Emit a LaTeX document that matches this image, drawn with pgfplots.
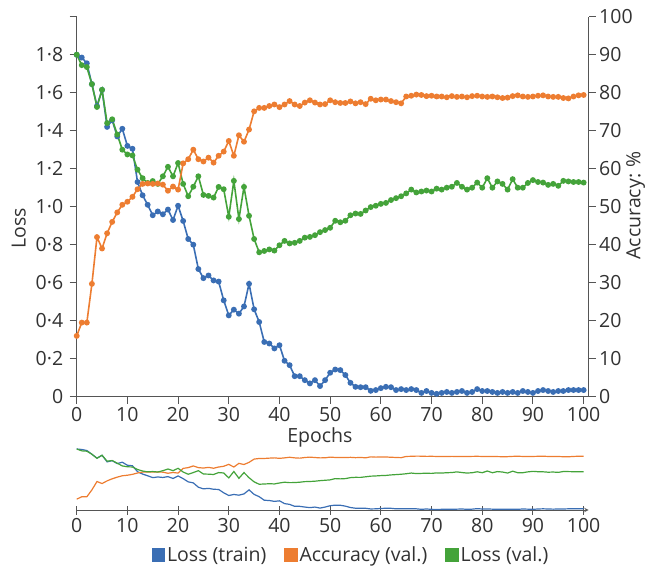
\documentclass[border=0pt]{standalone}
\usepackage{pgfplots}
\pgfplotsset{compat=1.18}
\usepackage{pgfplotstable}
\usepackage{fontspec}
\setmainfont{Open Sans}
\definecolor{ctrain}{RGB}{58,110,180}
\definecolor{cacc}{RGB}{237,125,49}
\definecolor{cval}{RGB}{68,163,58}
\definecolor{txt}{RGB}{50,50,50}
\definecolor{axl}{RGB}{85,85,85}

% epoch, training loss, validation accuracy (%), validation loss
\pgfplotstableread{
ep train acc val
0 1.800 16.0 1.800
1 1.785 19.5 1.745
2 1.755 19.5 1.735
3 1.645 29.7 1.645
4 1.530 42.0 1.525
5 1.615 39.0 1.615
6 1.420 43.0 1.440
7 1.455 46.0 1.460
8 1.370 48.5 1.380
9 1.410 50.5 1.300
10 1.320 51.3 1.275
11 1.305 52.6 1.270
12 1.130 54.6 1.195
13 1.060 56.0 1.150
14 1.010 56.1 1.125
15 0.955 56.0 1.135
16 0.975 56.1 1.120
17 0.960 55.8 1.160
18 0.985 54.2 1.210
19 0.930 55.3 1.160
20 1.005 54.5 1.230
21 0.925 61.4 1.120
22 0.830 62.5 1.055
23 0.800 65.0 1.105
24 0.672 62.5 1.160
25 0.624 61.9 1.062
26 0.638 62.9 1.057
27 0.612 61.6 1.048
28 0.606 63.4 1.104
29 0.507 64.5 1.092
30 0.428 67.3 0.947
31 0.458 63.4 1.136
32 0.437 68.8 0.935
33 0.475 67.1 1.104
34 0.594 70.3 0.952
35 0.460 75.1 0.830
36 0.393 76.0 0.760
37 0.288 76.0 0.767
38 0.280 76.5 0.775
39 0.254 76.9 0.769
40 0.271 76.2 0.797
41 0.189 76.9 0.820
42 0.166 77.8 0.807
43 0.108 76.9 0.810
44 0.108 76.5 0.820
45 0.087 77.4 0.837
46 0.070 78.0 0.841
47 0.087 77.4 0.850
48 0.056 76.9 0.866
49 0.087 77.0 0.877
50 0.126 78.0 0.889
51 0.143 77.5 0.926
52 0.140 77.3 0.918
53 0.114 77.3 0.926
54 0.073 77.7 0.955
55 0.052 77.2 0.964
56 0.050 77.5 0.962
57 0.050 77.0 0.980
58 0.031 78.4 0.998
59 0.035 78.0 1.005
60 0.045 78.2 1.015
61 0.052 78.2 1.020
62 0.050 77.8 1.035
63 0.035 77.5 1.045
64 0.040 77.2 1.055
65 0.035 79.0 1.070
66 0.040 79.2 1.090
67 0.035 79.5 1.075
68 0.020 79.4 1.080
69 0.030 79.1 1.085
70 0.020 79.2 1.080
71 0.015 79.0 1.095
72 0.020 79.0 1.090
73 0.025 78.8 1.100
74 0.020 79.1 1.105
75 0.025 78.9 1.125
76 0.030 79.0 1.105
77 0.020 78.8 1.090
78 0.025 79.1 1.100
79 0.040 79.2 1.127
80 0.030 79.0 1.100
81 0.030 78.9 1.150
82 0.025 79.0 1.100
83 0.020 78.8 1.133
84 0.025 78.6 1.120
85 0.020 78.7 1.090
86 0.025 79.1 1.145
87 0.020 79.3 1.100
88 0.030 79.0 1.100
89 0.025 78.9 1.125
90 0.020 79.0 1.140
91 0.030 79.2 1.130
92 0.035 79.3 1.127
93 0.030 79.0 1.115
94 0.025 78.9 1.120
95 0.030 78.9 1.110
96 0.030 78.6 1.136
97 0.035 78.5 1.133
98 0.035 79.0 1.130
99 0.035 79.3 1.130
100 0.035 79.4 1.127
}\hist

\newcommand{\fsz}{\fontsize{19.5bp}{23bp}\selectfont}

\begin{document}
\begin{tikzpicture}[font=\fsz]
\pgfplotsset{
  base/.style={
    scale only axis, width=512bp, xmin=0, xmax=101,
    /pgf/number format/assume math mode=true,
    axis line style={-, axl, line width=1bp},
    tick style={axl, line width=1bp},
    major tick length=7bp,
    tick label style={font=\fsz, text=txt},
    label style={font=\fsz, text=txt},
  },
  mk/.style={line width=1.6bp, mark=*, mark size=2.1bp, mark options={solid}},
}
% main axis, loss on the left
\begin{axis}[base, height=380bp, ymin=0, ymax=2,
  axis x line*=bottom, axis y line*=left, tick align=outside,
  xtick={0,10,...,100},
  ytick={0,0.2,...,2.0},
  yticklabels={0,0·2,0·4,0·6,0·8,1·0,1·2,1·4,1·6,1·8,{}},
  yticklabel style={xshift=-3bp},
  xlabel={Epochs},
  xlabel style={at={(axis description cs:0.475,0)}, anchor=center, yshift=-41bp},
  ylabel={Loss},
  ylabel style={at={(axis description cs:-0.113,0.444)}, anchor=center},
]
\addplot[ctrain, mk] table[x=ep, y=train]{\hist};
\addplot[cval, mk] table[x=ep, y=val]{\hist};
\end{axis}
% accuracy on the right
\begin{axis}[base, height=380bp, ymin=0, ymax=100,
  axis y line*=right, axis x line=none, tick align=outside,
  ytick={0,10,...,100},
  ylabel={Accuracy: \%},
  ylabel style={at={(axis description cs:1.0915,0.504)}, anchor=center},
]
\addplot[cacc, mk] table[x=ep, y=acc]{\hist};
\end{axis}
% overview strip with legend
\begin{axis}[base, at={(0bp,-113.3bp)}, height=64.4bp, ymin=0, ymax=1.9,
  axis x line=bottom, axis y line=none, tick align=center,
  major tick length=9bp,
  xtick={0,10,...,100},
  legend columns=3,
  legend style={at={(0.536,0)}, anchor=center, yshift=-45bp, draw=none, fill=none,
    font=\fsz, text=txt,
    /tikz/every even column/.append style={column sep=16bp}},
  legend image code/.code={\fill (0bp,-6bp) rectangle (12bp,6bp);},
]
\addplot[color=ctrain, line width=1.2bp] table[x=ep, y=train]{\hist};
\addlegendentry{Loss (train)}
\addplot[color=cacc, line width=1.2bp] table[x=ep, y expr=\thisrow{acc}/50]{\hist};
\addlegendentry{Accuracy (val.)}
\addplot[color=cval, line width=1.2bp] table[x=ep, y=val]{\hist};
\addlegendentry{Loss (val.)}
\end{axis}
\pgfresetboundingbox
\useasboundingbox (-76.7bp,-171.3bp) rectangle (570.3bp,396.7bp);
\end{tikzpicture}
\end{document}
